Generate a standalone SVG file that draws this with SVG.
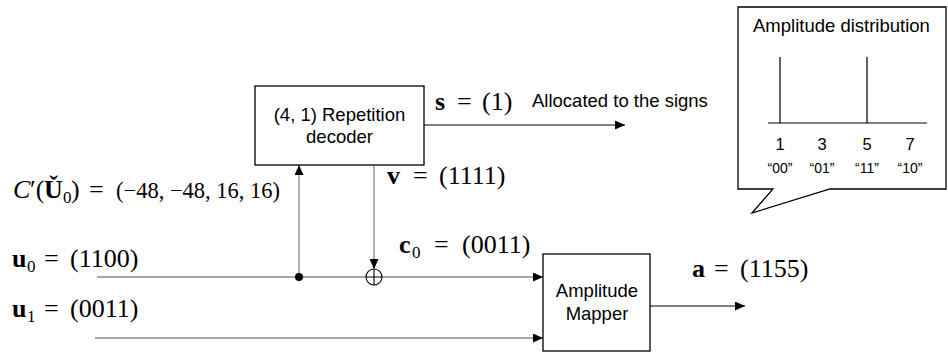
<svg xmlns="http://www.w3.org/2000/svg" width="948" height="358" viewBox="0 0 948 358">
<style>
.box{fill:#fff;stroke:#000;stroke-width:1.3}
.sans{font-family:"Liberation Sans",Arial,sans-serif;fill:#000}
.lbl{font-size:18.5px}
.num{font-size:16.5px}
.sm{font-size:14px}
.math{font-family:"Liberation Serif","Times New Roman",serif;font-size:26px;fill:#000}
.b{font-weight:bold}
.g{stroke:#888;stroke-width:1.3;fill:none}
.k{stroke:#000;stroke-width:1.2;fill:none}
</style>
<defs>
<marker id="ah" viewBox="0 0 10 10" refX="10" refY="5" markerWidth="10" markerHeight="9" markerUnits="userSpaceOnUse" orient="auto" preserveAspectRatio="none">
<path d="M0,0 L10,5 L0,10 z" fill="#000"/>
</marker>
</defs>
<g id="connectors">
<path class="g" d="M97,277 H543" marker-end="url(#ah)"/>
<path class="g" d="M95,338 H543" marker-end="url(#ah)"/>
<path class="g" d="M299,277 V165" marker-end="url(#ah)"/>
<path class="g" d="M374,165 V269" marker-end="url(#ah)"/>
<path class="k" d="M424,125 H625" marker-end="url(#ah)"/>
<path class="k" d="M650,306 H745" marker-end="url(#ah)"/>
<circle cx="299" cy="277" r="4" fill="#000"/>
<circle cx="374" cy="277" r="8" fill="#fff" stroke="#000" stroke-width="1.1"/>
<path d="M366,277 H382 M374,269 V285" stroke="#000" stroke-width="1.1"/>
</g>
<g id="decoder">
<rect class="box" x="255" y="86" width="169" height="79"/>
<text class="sans lbl" x="339.5" y="121" text-anchor="middle">(4, 1) Repetition</text>
<text class="sans lbl" x="339.5" y="143" text-anchor="middle">decoder</text>
</g>
<g id="mapper">
<rect class="box" x="543" y="254" width="107" height="97"/>
<text class="sans lbl" x="597" y="297" text-anchor="middle">Amplitude</text>
<text class="sans lbl" x="597" y="320" text-anchor="middle">Mapper</text>
</g>
<g id="callout">
<path class="box" d="M738,7 H946 V189 H830 L752,213 L773,189 H738 Z"/>
<text class="sans lbl" x="753" y="32">Amplitude distribution</text>
<path class="k" d="M768,123 H927 M780,57 V123 M867,57 V123"/>
<text class="sans num" text-anchor="middle" y="150"><tspan x="780">1</tspan><tspan x="822">3</tspan><tspan x="867">5</tspan><tspan x="910">7</tspan></text>
<text class="sans sm" text-anchor="middle" y="173"><tspan x="780">“00”</tspan><tspan x="822">“01”</tspan><tspan x="867">“11”</tspan><tspan x="910">“10”</tspan></text>
</g>
<g id="labels">
<text class="math" y="110"><tspan class="b" x="435">s</tspan><tspan x="457">=</tspan><tspan x="482">(1)</tspan></text>
<text class="sans lbl" x="532" y="107">Allocated to the signs</text>
<text class="math" y="184"><tspan class="b" x="387">v</tspan><tspan x="413">=</tspan><tspan x="439">(1111)</tspan></text>
<text class="math" y="198"><tspan x="13" font-style="italic">C</tspan><tspan x="30">′(</tspan><tspan class="b" x="44">Ǔ</tspan><tspan font-size="17" x="63" dy="5">0</tspan><tspan x="71" dy="-5">)</tspan><tspan x="89">=</tspan><tspan x="116" font-size="22.5">(−48, −48, 16, 16)</tspan></text>
<text class="math" y="267"><tspan class="b" x="12">u</tspan><tspan font-size="17" x="27" dy="5">0</tspan><tspan x="44" dy="-5">=</tspan><tspan x="70">(1100)</tspan></text>
<text class="math" y="317"><tspan class="b" x="12">u</tspan><tspan font-size="17" x="27" dy="5">1</tspan><tspan x="44" dy="-5">=</tspan><tspan x="70">(0011)</tspan></text>
<text class="math" y="253"><tspan class="b" x="399">c</tspan><tspan font-size="17" x="412" dy="5">0</tspan><tspan x="434" dy="-5">=</tspan><tspan x="462">(0011)</tspan></text>
<text class="math" y="277"><tspan class="b" x="692">a</tspan><tspan x="714">=</tspan><tspan x="740">(1155)</tspan></text>
</g>
</svg>
